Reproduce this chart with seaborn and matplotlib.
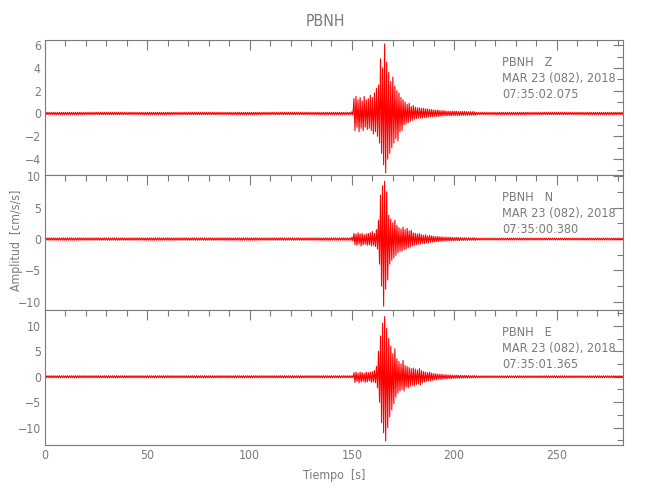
import numpy as np
import pandas as pd
import matplotlib
matplotlib.use('Agg')
import matplotlib.pyplot as plt
import seaborn as sns
from matplotlib.ticker import MultipleLocator
from matplotlib import font_manager

# --- data: per-second envelope (max / min) ---
station = 'PBNH'
channels = ['Z', 'N', 'E']
start_times = ['07:35:02.075', '07:35:00.380', '07:35:01.365']
date_label = 'MAR 23 (082), 2018'
t_end = 283          # length of record [s]
t_onset = 150        # first second of the explicit envelopes

# quiet noise level before / after the event
noise_pre = {'Z': 0.1, 'N': 0.18, 'E': 0.2}
noise_post = {'Z': 0.1, 'N': 0.15, 'E': 0.18}

z_up = [0.15, 1.3, 1.5, 1.2, 1.4, 1.1, 1.5, 1.2, 1.3, 1.6, 1.4, 1.8, 2.2, 2.5, 4.8, 4.0,
        6.1, 4.5, 3.6, 2.8, 3.2, 2.4, 2.0, 1.8, 1.4, 1.2, 1.0, 0.8, 0.9, 0.6, 0.7, 0.55,
        0.5, 0.5, 0.45, 0.45, 0.4, 0.4, 0.35, 0.35, 0.3, 0.3, 0.3, 0.25, 0.25, 0.25, 0.2,
        0.2, 0.2, 0.2, 0.2, 0.2, 0.18, 0.18, 0.18, 0.18, 0.16, 0.16, 0.16, 0.16, 0.15]
z_lo = [-0.15, -1.5, -1.2, -1.6, -1.3, -1.5, -1.2, -1.4, -1.3, -1.5, -1.8, -1.6, -2.0, -2.6,
        -3.5, -4.5, -5.2, -4.0, -3.5, -3.0, -2.6, -2.2, -2.4, -1.6, -1.5, -1.0, -0.9, -0.8,
        -0.7, -0.6, -0.5, -0.45, -0.4, -0.4, -0.4, -0.35, -0.35, -0.3, -0.3, -0.3, -0.25,
        -0.25, -0.25, -0.22, -0.22, -0.2, -0.2, -0.2, -0.2, -0.18, -0.18, -0.18, -0.18,
        -0.16, -0.16, -0.16, -0.16, -0.15, -0.15, -0.15, -0.15]

n_up = [0.3, 0.9, 0.8, 1.0, 0.8, 0.9, 0.7, 0.8, 0.9, 1.0, 1.2, 0.9, 1.5, 3.0, 7.0, 8.5,
        9.2, 7.5, 3.8, 3.2, 2.6, 3.0, 2.2, 1.8, 1.6, 1.9, 1.5, 1.7, 1.3, 1.4, 1.0, 0.9,
        0.8, 0.9, 0.7, 0.6, 0.7, 0.5, 0.6, 0.5, 0.45, 0.4, 0.4, 0.35, 0.35, 0.3, 0.3,
        0.3, 0.28, 0.28, 0.25, 0.25, 0.25, 0.22, 0.22, 0.22, 0.2, 0.2, 0.2, 0.2, 0.2]
n_lo = [-0.3, -0.9, -1.0, -0.8, -1.1, -0.9, -0.8, -1.0, -0.9, -1.1, -1.0, -1.2, -1.6, -4.0,
        -7.5, -10.7, -8.0, -6.5, -4.0, -3.4, -3.0, -2.6, -2.2, -2.0, -1.9, -1.7, -1.6, -1.4,
        -1.3, -1.1, -1.0, -0.9, -0.8, -0.8, -0.7, -0.7, -0.6, -0.6, -0.5, -0.5, -0.45, -0.4,
        -0.4, -0.35, -0.35, -0.3, -0.3, -0.3, -0.28, -0.28, -0.25, -0.25, -0.25, -0.22,
        -0.22, -0.22, -0.2, -0.2, -0.2, -0.2, -0.2]

e_up = [0.2, 0.8, 0.9, 0.7, 0.9, 0.8, 0.7, 0.9, 0.8, 0.9, 1.0, 1.2, 2.0, 5.0, 8.0, 10.5,
        11.8, 9.5, 7.5, 6.0, 4.5, 5.5, 3.5, 3.0, 2.5, 3.2, 2.2, 2.0, 1.8, 1.6, 1.7, 1.5,
        1.3, 1.6, 1.2, 1.0, 0.9, 0.8, 0.9, 0.7, 0.6, 0.6, 0.5, 0.5, 0.45, 0.4, 0.4, 0.35,
        0.35, 0.3, 0.3, 0.3, 0.28, 0.28, 0.25, 0.25, 0.25, 0.25, 0.22, 0.22, 0.22]
e_lo = [-0.2, -1.1, -0.9, -1.2, -1.0, -0.9, -1.1, -1.0, -0.8, -1.1, -1.0, -1.2, -2.2, -5.0,
        -9.0, -11.0, -12.6, -10.0, -7.9, -6.5, -5.3, -4.0, -3.2, -2.8, -2.5, -2.8, -2.0,
        -2.2, -1.9, -1.7, -1.8, -1.5, -1.4, -1.6, -1.2, -1.0, -0.9, -0.8, -0.8, -0.7, -0.6,
        -0.6, -0.5, -0.5, -0.45, -0.4, -0.4, -0.35, -0.35, -0.3, -0.3, -0.3, -0.28, -0.28,
        -0.25, -0.25, -0.25, -0.25, -0.22, -0.22, -0.22]

envelopes = {'Z': (z_up, z_lo), 'N': (n_up, n_lo), 'E': (e_up, e_lo)}
ylims = {'Z': (-5.4, 6.45), 'N': (-11.3, 10.2), 'E': (-13.4, 13.1)}
y_major = {'Z': 2, 'N': 5, 'E': 5}
y_minor = {'Z': 1, 'N': 2.5, 'E': 2.5}


def trace(ch):
    up, lo = envelopes[ch]
    n_act = len(up)
    t_sec = np.arange(t_end)
    hi = np.empty(t_end)
    lw = np.empty(t_end)
    hi[:t_onset] = noise_pre[ch]
    lw[:t_onset] = -noise_pre[ch]
    hi[t_onset:t_onset + n_act] = up
    lw[t_onset:t_onset + n_act] = lo
    hi[t_onset + n_act:] = noise_post[ch]
    lw[t_onset + n_act:] = -noise_post[ch]
    # zig-zag between max and min of every second
    tt = np.column_stack([t_sec, t_sec + 0.5]).ravel()
    aa = np.column_stack([hi, lw]).ravel()
    return pd.DataFrame({'Tiempo': tt, 'Amp': aa})


# --- font: try to find something narrow, like the IDL stroke font ---
sns.set_style('white')
fam, stretch = 'DejaVu Sans', 'normal'
for f in font_manager.fontManager.ttflist:
    if 'Narrow' in f.name or 'Condensed' in f.name:
        fam, stretch = f.name, 'normal'
        break
    if f.stretch == 'condensed' and f.weight in (400, 'normal', 'regular'):
        fam, stretch = f.name, 'condensed'
        break
plt.rcParams['font.family'] = [fam, 'DejaVu Sans']
plt.rcParams['font.stretch'] = stretch
narrow = fam != 'DejaVu Sans' or stretch == 'condensed'
fs = 8.8 if narrow else 7.8
gray = '#7a7a7a'

fig = plt.figure(figsize=(6.5, 5), dpi=100)
gs = fig.add_gridspec(3, 1, left=45/650, right=623/650, top=1-40/500, bottom=1-445/500, hspace=0)
axes = [fig.add_subplot(gs[i]) for i in range(3)]

for i, (ax, ch) in enumerate(zip(axes, channels)):
    df = trace(ch)
    sns.lineplot(data=df, x='Tiempo', y='Amp', ax=ax, sort=False, estimator=None,
                 color='red', linewidth=0.8)
    ax.set_xlim(0, 282.5)
    ax.set_ylim(*ylims[ch])
    ax.xaxis.set_major_locator(MultipleLocator(50))
    ax.xaxis.set_minor_locator(MultipleLocator(10))
    ax.yaxis.set_major_locator(MultipleLocator(y_major[ch]))
    ax.yaxis.set_minor_locator(MultipleLocator(y_minor[ch]))
    ax.tick_params(which='both', direction='in', top=True, right=True, color=gray,
                   labelcolor=gray, labelsize=fs, width=0.8, pad=3)
    ax.tick_params(which='major', length=7)
    ax.tick_params(which='minor', length=4)
    for s in ax.spines.values():
        s.set_color(gray)
        s.set_linewidth(0.8)
    ax.set_xlabel('')
    ax.set_ylabel('')
    if i < 2:
        ax.tick_params(labelbottom=False)
    ax.text(0.791, 0.885, f'{station}   {ch}\n{date_label}\n{start_times[i]}',
            transform=ax.transAxes, ha='left', va='top', color=gray, fontsize=fs + 0.3,
            linespacing=1.3)

axes[2].set_xlabel('Tiempo  [s]', color=gray, fontsize=fs, labelpad=5)
fig.text(17/650, 1-240/500, 'Amplitud  [cm/s/s]', rotation=90, color=gray,
         fontsize=fs, ha='center', va='center')
fig.text(325/650, 1-22/500, station, color=gray, fontsize=fs + 2.5, ha='center', va='center')

fig.savefig('out.png', dpi=100)
